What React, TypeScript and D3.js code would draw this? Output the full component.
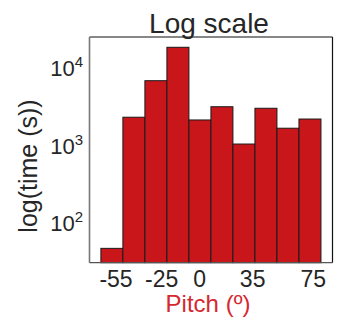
import React from "react";
import * as d3 from "d3";

const binEdges = [-65, -50.5, -36, -21.5, -7, 7.5, 22, 36.5, 51, 65.5, 80];
const binValues = [46, 2290, 6800, 18400, 2110, 3130, 1030, 2990, 1650, 2170];
const xTicks = [-55, -25, 0, 35, 75];
const yTicks = [100, 1000, 10000];
const yExponents = ["2", "3", "4"];

const W = 337;
const H = 320;
const L = 89.5, R = 332.5, T = 37, B = 262.7;

export default function App() {
  const x = d3.scaleLinear().domain([-72.5, 87.6]).range([L, R]);
  const y = d3.scaleLog().domain([30, 25000]).range([B, T]);
  const font = "'Liberation Sans', Arial, Helvetica, sans-serif";
  const txt = "#262626";
  return (
    <svg width={W} height={H} style={{ position: "absolute", left: 0, top: 0 }} fontFamily={font}>
      <rect x={0} y={0} width={W} height={H} fill="#fff" />
      <rect x={L} y={T} width={R - L} height={B - T} fill="#fff" />
      {binValues.map((v, i) => (
        <rect
          key={i}
          x={x(binEdges[i])}
          y={y(v)}
          width={x(binEdges[i + 1]) - x(binEdges[i])}
          height={B - y(v)}
          fill="#c8161b"
          stroke="#1a1a1a"
          strokeWidth={1}
        />
      ))}
      <line x1={L} y1={T} x2={R} y2={T} stroke="#111" strokeWidth={1.2} />
      <line x1={R} y1={T} x2={R} y2={B} stroke="#111" strokeWidth={1.2} />
      <line x1={L} y1={T} x2={L} y2={B} stroke="#777" strokeWidth={1.6} />
      <line x1={L} y1={B} x2={R} y2={B} stroke="#555" strokeWidth={1.2} />
      {xTicks.map((t) => (
        <text key={t} x={x(t)} y={286.5} textAnchor="middle" fontSize={23} fill={txt}>
          {t < 0 ? "-" + Math.abs(t) : String(t)}
        </text>
      ))}
      {yTicks.map((t, i) => (
        <text key={t} x={83} y={y(t) + 8.5} textAnchor="end" fontSize={22} fill={txt}>
          10
          <tspan fontSize={15} dy={-9}>{yExponents[i]}</tspan>
        </text>
      ))}
      <text x={209} y={33} textAnchor="middle" fontSize={28} fill={txt}>
        Log scale
      </text>
      <text x={208} y={311.5} textAnchor="middle" fontSize={24} fill="#d62830">
        Pitch (º)
      </text>
      <text
        transform={`translate(37,166) rotate(-90)`}
        textAnchor="middle"
        fontSize={25}
        fill={txt}
      >
        log(time (s))
      </text>
    </svg>
  );
}
